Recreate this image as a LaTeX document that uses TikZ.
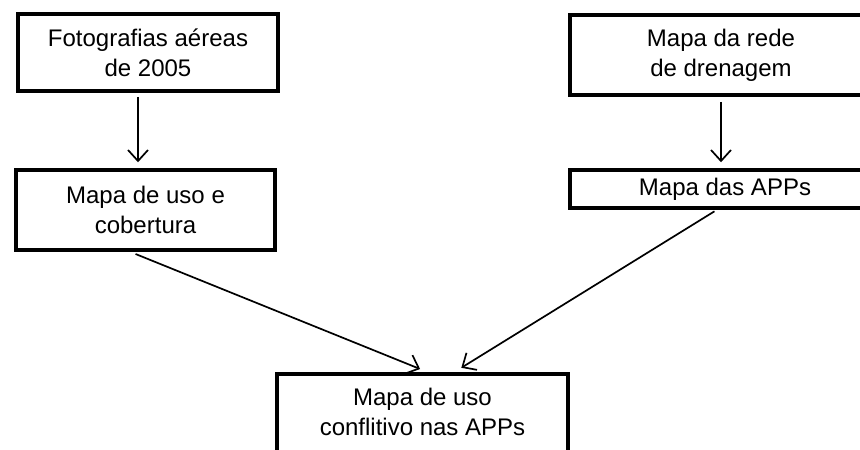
\documentclass[tikz,border=0pt]{standalone}
\usepackage{fontspec}
\setmainfont{Liberation Sans}
\usetikzlibrary{arrows.meta, positioning}

\begin{document}
\begin{tikzpicture}[
    x=1pt, y=-1pt,
    caixa/.style={rectangle, draw=black, line width=3.5pt, align=center, inner sep=0pt, font=\fontsize{24}{30}\selectfont},
    seta/.style={-{Straight Barb[length=11pt, width=20pt]}, line width=1.7pt},
]
    \path[use as bounding box, clip] (0,0) rectangle (860,450);
    \fill[white] (0,0) rectangle (860,450);

    \node[caixa, minimum width=260pt, minimum height=77pt] (fotos) at (148,52.5) {Fotografias a\'ereas\\de 2005};
    \node[caixa, minimum width=259pt, minimum height=80pt] (uso) at (145.5,210) {Mapa de uso e\\cobertura};
    \node[caixa, minimum width=302pt, minimum height=80pt] (drenagem) at (721,55) {Mapa da rede\\de drenagem};
    \node[caixa, minimum width=310pt, minimum height=38pt] (apps) at (725,189) {Mapa das APPs};
    \node[caixa, anchor=north, minimum width=291pt, inner ysep=14pt, text depth=24pt] (conflito) at (422.5,372) {Mapa de uso\\conflitivo nas APPs};

    \draw[seta, shorten <=4pt, shorten >=6pt] ([xshift=-10pt]fotos.south) -- ([xshift=-7.5pt]uso.north);
    \draw[seta, shorten <=5pt, shorten >=6pt] (drenagem.south) -- (drenagem.south |- apps.north);
    \draw[seta, shorten <=6pt, shorten >=8pt] ([xshift=-15.5pt]uso.south) -- ([xshift=5pt]conflito.north);
    \draw[seta, shorten <=3pt, shorten >=8pt] ([xshift=-8pt]apps.south) -- ([xshift=32pt]conflito.north);
\end{tikzpicture}
\end{document}
